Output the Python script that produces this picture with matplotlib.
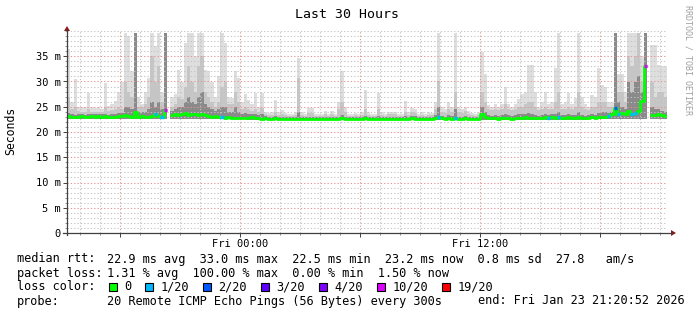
from datetime import datetime, timedelta

import numpy as np
import matplotlib
matplotlib.use("Agg")
import matplotlib.pyplot as plt
import matplotlib.dates as mdates
from matplotlib.ticker import FuncFormatter, MultipleLocator
from matplotlib.patches import Rectangle, Polygon
from matplotlib.lines import Line2D

nan = np.nan

# 10 minute bins, 30 hours ending Fri Jan 23 21:20:52 2026 (values in ms)
rtt_median = [
    23.2, 23.0, 22.9, 23.0, 23.1, 22.9, 23.0, 23.1, 23.0, 23.2,
    23.0, 23.1, 22.9, 23.0, 23.0, 23.1, 23.2, 23.4, 23.2, 23.0,
    24.0, 23.0, 23.2, 22.9, 23.0, 23.1, 23.5, 23.2, 22.9, 24.4,
    nan, 23.4, 23.6, 23.3, 23.5, 23.8, 23.4, 23.6, 23.5, 23.3,
    23.6, 23.3, 23.2, 23.0, 23.1, 22.9, 23.0, 22.8, 22.9, 22.8,
    22.8, 22.7, 22.8, 22.7, 22.8, 22.9, 22.7, 22.8, 22.6, 22.7,
    22.6, 22.6, 22.7, 22.5, 22.6, 22.6, 22.5, 22.5, 22.6, 22.6,
    22.5, 22.5, 22.6, 22.6, 22.5, 22.5, 22.5, 22.6, 22.5, 22.6,
    22.5, 22.6, 22.7, 22.6, 22.5, 22.5, 22.6, 22.5, 22.6, 22.7,
    22.6, 22.5, 22.5, 22.6, 22.6, 22.5, 22.6, 22.6, 22.6, 22.5,
    22.5, 22.6, 22.6, 22.7, 22.6, 22.5, 22.6, 22.5, 22.6, 22.6,
    22.7, 22.9, 22.7, 22.6, 22.7, 22.6, 22.8, 22.6, 22.6, 22.7,
    22.6, 22.5, 22.5, 22.6, 23.6, 23.0, 22.8, 22.7, 22.7, 22.6,
    22.7, 22.8, 22.7, 22.6, 22.7, 22.8, 22.8, 22.9, 22.8, 22.7,
    22.8, 22.7, 22.8, 22.9, 22.8, 22.9, 22.8, 22.9, 22.8, 22.8,
    22.9, 22.8, 22.7, 22.9, 22.8, 22.7, 22.8, 22.9, 22.8, 23.0,
    23.0, 22.9, 23.2, 23.5, 24.8, 23.5, 23.8, 23.6, 24.2, 23.6,
    23.8, 24.2, 26.2, 33.0, nan, 23.3, 23.4, 23.6, 23.3, 23.2,
]

rtt_max = [
    36.5, 26.0, 30.5, 25.0, 25.0, 25.0, 27.8, 25.0, 24.8, 25.0,
    24.6, 29.7, 25.2, 25.5, 26.2, 28.0, 30.0, 39.7, 39.0, 32.0,
    35.0, 27.0, 25.5, 28.0, 30.7, 39.7, 37.0, 39.7, 28.0, 39.7,
    nan, 27.0, 27.5, 32.3, 30.0, 37.7, 39.7, 39.7, 35.0, 39.7,
    39.7, 32.3, 32.0, 30.0, 27.0, 31.0, 39.7, 37.7, 27.0, 26.8,
    32.0, 30.7, 26.0, 27.6, 26.4, 25.5, 27.8, 25.0, 27.8, 24.0,
    23.8, 24.0, 26.4, 24.0, 24.4, 23.8, 23.6, 23.6, 24.0, 34.7,
    24.0, 23.6, 24.8, 24.8, 23.6, 23.5, 23.5, 24.2, 23.6, 24.2,
    23.5, 26.0, 32.0, 25.0, 23.6, 23.6, 23.8, 23.6, 24.0, 28.4,
    24.0, 23.5, 23.6, 27.8, 24.0, 23.6, 24.0, 24.0, 24.0, 23.6,
    23.6, 26.2, 24.0, 24.8, 24.5, 23.6, 24.0, 23.6, 24.0, 23.8,
    26.0, 39.7, 25.0, 24.5, 26.0, 25.0, 39.7, 25.0, 24.5, 25.0,
    24.2, 23.8, 23.6, 24.0, 35.9, 31.4, 25.4, 25.0, 25.5, 25.0,
    25.5, 29.0, 25.5, 25.0, 25.5, 26.5, 27.5, 28.0, 33.3, 33.3,
    28.0, 25.0, 26.0, 28.0, 25.6, 26.0, 32.7, 39.7, 25.5, 26.0,
    27.8, 25.5, 26.8, 39.7, 27.0, 25.5, 25.0, 27.4, 27.0, 32.7,
    29.4, 29.0, 26.0, 26.0, 39.7, 31.4, 31.5, 28.0, 39.7, 39.7,
    39.7, 39.7, 35.0, 39.7, nan, 37.3, 37.3, 33.3, 33.0, 33.0,
]

rtt_p90 = [
    27.0, 24.5, 25.0, 24.2, 24.0, 24.0, 24.5, 24.0, 24.0, 24.0,
    24.0, 25.0, 24.2, 24.3, 24.5, 25.0, 24.5, 30.0, 28.0, 27.0,
    33.0, 25.0, 25.0, 25.5, 27.0, 35.0, 30.0, 33.0, 26.0, 30.0,
    nan, 25.0, 25.5, 27.0, 26.5, 29.0, 33.0, 30.0, 28.0, 33.0,
    35.0, 28.0, 27.0, 26.0, 25.0, 26.0, 29.0, 30.0, 25.5, 25.5,
    28.0, 26.0, 24.5, 25.0, 24.5, 24.2, 24.5, 24.0, 24.8, 23.5,
    23.4, 23.4, 24.0, 23.4, 23.6, 23.4, 23.2, 23.2, 23.4, 30.7,
    23.4, 23.2, 23.8, 23.8, 23.2, 23.2, 23.2, 23.6, 23.2, 23.6,
    23.2, 24.5, 26.0, 24.0, 23.2, 23.2, 23.4, 23.2, 23.4, 24.5,
    23.4, 23.2, 23.2, 24.5, 23.4, 23.2, 23.6, 23.6, 23.6, 23.2,
    23.2, 24.0, 23.4, 24.0, 23.8, 23.2, 23.4, 23.2, 23.4, 23.3,
    24.5, 30.0, 24.0, 23.8, 24.5, 24.0, 28.0, 24.0, 23.8, 24.2,
    23.6, 23.4, 23.2, 23.4, 28.0, 26.0, 24.5, 24.3, 24.5, 24.3,
    24.5, 25.5, 24.5, 24.3, 24.5, 25.0, 25.0, 25.5, 26.0, 26.0,
    25.0, 24.3, 24.5, 25.0, 24.5, 24.5, 26.0, 28.0, 24.5, 24.5,
    25.0, 24.5, 25.0, 28.0, 25.0, 24.5, 24.3, 25.0, 25.0, 26.0,
    26.0, 26.0, 25.0, 25.0, 33.0, 28.0, 28.0, 26.0, 35.0, 33.0,
    35.0, 39.7, 30.0, 39.7, nan, 30.0, 27.0, 28.0, 28.0, 27.0,
]

rtt_p75 = [
    23.8, 23.5, 23.4, 23.5, 23.5, 23.4, 23.5, 23.5, 23.5, 23.6,
    23.5, 23.6, 23.4, 23.5, 23.6, 23.8, 23.8, 25.0, 25.0, 24.5,
    39.7, 24.0, 24.0, 24.0, 24.5, 26.0, 25.0, 26.0, 24.5, 39.7,
    nan, 24.2, 24.5, 25.0, 25.0, 26.0, 27.0, 26.0, 25.5, 27.0,
    28.0, 25.5, 25.0, 24.5, 24.2, 24.5, 25.0, 25.0, 24.0, 24.0,
    25.0, 24.0, 23.6, 23.8, 23.6, 23.5, 23.5, 23.4, 23.6, 23.1,
    23.0, 23.0, 23.2, 22.9, 23.0, 23.0, 22.9, 22.9, 23.0, 24.0,
    22.9, 22.9, 23.0, 23.0, 22.9, 22.9, 22.9, 23.0, 22.9, 23.0,
    22.9, 23.0, 23.4, 23.0, 22.9, 22.9, 23.0, 22.9, 23.0, 23.2,
    23.0, 22.9, 22.9, 23.2, 23.0, 22.9, 23.0, 23.0, 23.0, 22.9,
    22.9, 23.2, 23.0, 23.2, 23.1, 22.9, 23.0, 22.9, 23.0, 23.0,
    23.3, 25.0, 23.2, 23.0, 23.3, 23.1, 24.5, 23.0, 23.0, 23.2,
    23.0, 22.9, 22.9, 23.0, 25.0, 24.0, 23.3, 23.2, 23.3, 23.1,
    23.3, 23.6, 23.3, 23.1, 23.3, 23.5, 23.5, 23.6, 23.8, 23.6,
    23.4, 23.2, 23.4, 23.6, 23.4, 23.5, 23.6, 24.0, 23.3, 23.3,
    23.5, 23.3, 23.3, 24.0, 23.4, 23.2, 23.3, 23.5, 23.4, 23.8,
    24.0, 24.0, 23.8, 24.0, 39.7, 26.0, 25.0, 24.5, 30.0, 28.0,
    30.0, 31.0, 28.0, 39.7, nan, 25.0, 24.5, 24.5, 24.2, 24.0,
]

# lowest ping, read per hour
rtt_min_hourly = [
    22.6, 22.6, 22.6, 22.6, 22.6, 22.6, 22.6, 22.5, 22.5, 22.4,
    22.3, 22.3, 22.3, 22.3, 22.3, 22.3, 22.3, 22.3, 22.3, 22.3,
    22.3, 22.4, 22.4, 22.4, 22.4, 22.4, 22.5, 22.6, 22.6, 22.6,
]

# bins where pings were lost (lost count out of 20)
loss_bins = [26, 28, 29, 46, 111, 116, 144, 147, 162, 164, 165, 169, 170, 173]
loss_count = [1, 1, 10, 1, 1, 1, 1, 1, 1, 2, 1, 1, 1, 10]

loss_labels = ["0", "1/20", "2/20", "3/20", "4/20", "10/20", "19/20"]
loss_levels = [0, 1, 2, 3, 4, 10, 19]
loss_colors = ["#00ff00", "#00b8ff", "#0059ff", "#5e00ff", "#7e00ff", "#dd00ff", "#ff0000"]

median_stats = "22.9 ms avg  33.0 ms max  22.5 ms min  23.2 ms now  0.8 ms sd  27.8   am/s"
loss_stats = "1.31 % avg  100.00 % max  0.00 % min  1.50 % now"
probe_text = "20 Remote ICMP Echo Pings (56 Bytes) every 300s"
end_text = "end: Fri Jan 23 21:20:52 2026"

W, H = 697, 315
MONO = "DejaVu Sans Mono"


def fx(x):
    return x / W


def fy(y):
    return 1 - y / H


start = datetime(2026, 1, 22, 15, 20, 52)
step = timedelta(minutes=10)
edges = mdates.date2num([start + i * step for i in range(len(rtt_median) + 1)])
width = edges[1] - edges[0]

med = np.array(rtt_median)
lo = np.repeat(rtt_min_hourly, 6)
lo = np.where(np.isnan(med), nan, lo)

fig = plt.figure(figsize=(W / 100, H / 100), dpi=100)
fig.patch.set_facecolor("white")
ax = fig.add_axes([fx(67), fy(233), 600 / W, 202 / H])
ax.set_facecolor("white")

# smoke: light outer spread, then darker layers towards the median
for top, col in [(rtt_max, "#dedede"), (rtt_p90, "#c6c6c6"), (rtt_p75, "#8a8a8a")]:
    top = np.array(top)
    ax.bar(edges[:-1], top - lo, bottom=lo, width=width, align="edge",
           color=col, linewidth=0, antialiased=False, zorder=1)

ax.plot(edges, np.append(med, med[-1]), drawstyle="steps-post",
        color=loss_colors[0], lw=2.0, solid_capstyle="butt", zorder=3)
for b, n in zip(loss_bins, loss_count):
    ax.hlines(med[b], edges[b], edges[b + 1], color=loss_colors[loss_levels.index(n)],
              lw=2.4, zorder=4)

ax.set_xlim(edges[0], edges[-1])
ax.set_ylim(0, 40)

ax.xaxis.set_major_locator(mdates.HourLocator(byhour=[0, 6, 12, 18]))
ax.xaxis.set_minor_locator(mdates.HourLocator())


def xlabel(v, pos):
    d = mdates.num2date(v)
    return d.strftime("%a %H:%M") if d.hour in (0, 12) else ""


ax.xaxis.set_major_formatter(FuncFormatter(xlabel))
ax.yaxis.set_major_locator(MultipleLocator(5))
ax.yaxis.set_minor_locator(MultipleLocator(1))
ax.yaxis.set_major_formatter(FuncFormatter(lambda v, p: "0" if v == 0 else f"{v:.0f} m"))
ax.set_yticks(np.arange(0, 40, 5))

ax.set_axisbelow(False)
ax.grid(which="minor", color="#c4c4c4", linestyle=(0, (1.2, 2)), linewidth=0.75)
ax.grid(which="major", color="#e49494", linestyle=(0, (1.2, 2)), linewidth=0.75)

for s in ax.spines.values():
    s.set_visible(False)
ax.tick_params(axis="both", which="major", length=3, width=0.7, color="#404040",
               labelsize=7.5, labelfontfamily=MONO)
ax.tick_params(axis="both", which="minor", length=1.5, width=0.6, color="#808080")
ax.tick_params(axis="y", pad=1.5)
ax.tick_params(axis="x", pad=1.5)

# axis lines with arrow heads
fig.add_artist(Line2D([fx(67), fx(67)], [fy(235), fy(30)], transform=fig.transFigure,
                      color="#404040", lw=0.9))
fig.add_artist(Line2D([fx(63), fx(672)], [fy(233), fy(233)], transform=fig.transFigure,
                      color="#404040", lw=0.9))
fig.add_artist(Polygon([[fx(64), fy(31)], [fx(70), fy(31)], [fx(67), fy(26)]], closed=True,
                       transform=fig.transFigure, color="#8b1a1a", lw=0))
fig.add_artist(Polygon([[fx(671), fy(230)], [fx(671), fy(236)], [fx(676), fy(233)]], closed=True,
                       transform=fig.transFigure, color="#8b1a1a", lw=0))

fig.text(fx(347), fy(14), "Last 30 Hours", family=MONO, fontsize=9.5, ha="center", va="center")
fig.text(fx(11), fy(131), "Seconds", family=MONO, fontsize=8.3, rotation=90,
         ha="center", va="center")
fig.text(fx(688), fy(5), "RRDTOOL / TOBI OETIKER", family=MONO, fontsize=6, rotation=270,
         ha="center", va="top", color="#a0a0a0")

# legend block
rows = [259, 273, 287, 301]
fs = 8.55
cw = 7.15
fig.text(fx(17), fy(rows[0]), "median rtt:", family=MONO, fontsize=fs, va="center")
fig.text(fx(107), fy(rows[0]), median_stats, family=MONO, fontsize=fs, va="center")
fig.text(fx(17), fy(rows[1]), "packet loss:", family=MONO, fontsize=fs, va="center")
fig.text(fx(107), fy(rows[1]), loss_stats, family=MONO, fontsize=fs, va="center")
fig.text(fx(17), fy(rows[2]), "loss color:", family=MONO, fontsize=fs, va="center")

tx = 124
for lab, col in zip(loss_labels, loss_colors):
    fig.add_artist(Rectangle((fx(tx - 15), fy(rows[2] + 3.5)), 7.5 / W, 7.5 / H,
                             transform=fig.transFigure, facecolor=col,
                             edgecolor="black", lw=0.8))
    fig.text(fx(tx), fy(rows[2]), lab, family=MONO, fontsize=fs, va="center")
    tx += (len(lab) + 2) * cw + 15

fig.text(fx(17), fy(rows[3]), "probe:", family=MONO, fontsize=fs, va="center")
fig.text(fx(107), fy(rows[3]), probe_text, family=MONO, fontsize=fs, va="center")
fig.text(fx(478), fy(rows[3]), end_text, family=MONO, fontsize=fs, va="center")

fig.savefig("out.png", dpi=100, facecolor="white")
